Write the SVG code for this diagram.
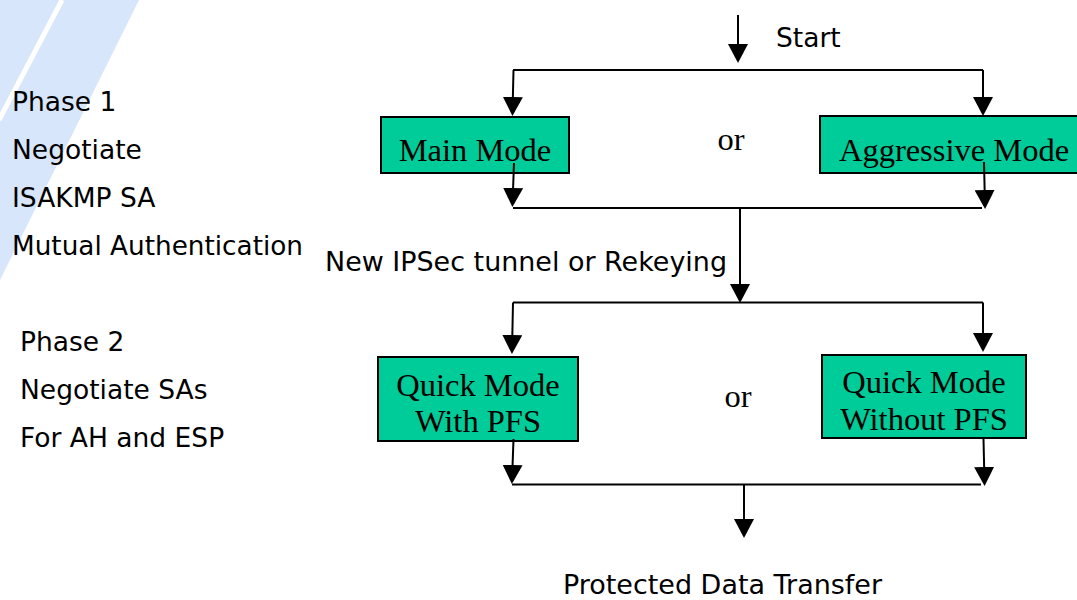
<svg xmlns="http://www.w3.org/2000/svg" width="1077" height="600" viewBox="0 0 1077 600">
  <style>
    .sans { font-family: "DejaVu Sans", Verdana, sans-serif; font-size: 26.5px; fill: #000; }
    .serif { font-family: "Liberation Serif", "Times New Roman", serif; font-size: 32.5px; fill: #000; text-anchor: middle; }
    .box { fill: #00cc99; stroke: #000; stroke-width: 2; }
    .conn { fill: none; stroke: #000; stroke-width: 2; }
    .arr { fill: none; stroke: #000; stroke-width: 2; marker-end: url(#ah); }
  </style>
  <defs>
    <marker id="ah" markerUnits="userSpaceOnUse" viewBox="0 0 20 20" markerWidth="20" markerHeight="20" refX="16" refY="10" orient="auto">
      <path d="M0,0 L19,10 L0,20 Z" fill="#000"/>
    </marker>
  </defs>
  <rect width="1077" height="600" fill="#fff"/>
  <!-- decorative stripe -->
  <g id="decor">
    <polygon points="0,0 139,0 0,280" fill="#d7e6fa"/>
    <line x1="62" y1="0" x2="-1" y2="120" stroke="#fff" stroke-width="5"/>
  </g>
  <!-- labels -->
  <g id="phase1-label">
    <text class="sans" x="12" y="111">Phase 1</text>
    <text class="sans" x="12" y="159">Negotiate</text>
    <text class="sans" x="12" y="207">ISAKMP SA</text>
    <text class="sans" x="12" y="255" textLength="291" lengthAdjust="spacingAndGlyphs">Mutual Authentication</text>
  </g>
  <g id="phase2-label">
    <text class="sans" x="20" y="351">Phase 2</text>
    <text class="sans" x="20" y="399">Negotiate SAs</text>
    <text class="sans" x="20" y="447">For AH and ESP</text>
  </g>
  <g id="start-label"><text class="sans" x="776" y="47">Start</text></g>
  <g id="rekey-label"><text class="sans" x="325" y="271" textLength="402" lengthAdjust="spacingAndGlyphs">New IPSec tunnel or Rekeying</text></g>
  <g id="end-label"><text class="sans" x="563" y="594" textLength="319" lengthAdjust="spacingAndGlyphs">Protected Data Transfer</text></g>
  <g id="or1"><text class="serif" x="731" y="150">or</text></g>
  <g id="or2"><text class="serif" x="738" y="407">or</text></g>
  <!-- nodes -->
  <g id="main-mode">
    <rect class="box" x="381" y="117" width="188" height="56"/>
    <text class="serif" x="475" y="161">Main Mode</text>
  </g>
  <g id="aggressive-mode">
    <rect class="box" x="820" y="116" width="270" height="57"/>
    <text class="serif" x="954" y="161">Aggressive Mode</text>
  </g>
  <g id="quick-pfs">
    <rect class="box" x="378" y="357" width="200" height="84"/>
    <text class="serif" x="478" y="396">Quick Mode</text>
    <text class="serif" x="478" y="432">With PFS</text>
  </g>
  <g id="quick-nopfs">
    <rect class="box" x="822" y="355" width="204" height="83"/>
    <text class="serif" x="924" y="393">Quick Mode</text>
    <text class="serif" x="924" y="430">Without PFS</text>
  </g>
  <!-- connectors -->
  <g id="connectors">
    <path class="arr" d="M738,15 L738,60"/>
    <path class="conn" d="M513,70 L983,70"/>
    <path class="arr" d="M513.5,70 L512.5,113"/>
    <path class="arr" d="M983,70 L983,113"/>
    <path class="arr" d="M514,163 L512.5,204"/>
    <path class="arr" d="M984,162 L985,206"/>
    <path class="conn" d="M513,208 L982,208"/>
    <path class="arr" d="M740,208 L740,300"/>
    <path class="conn" d="M513,302.5 L983,302.5"/>
    <path class="arr" d="M513,302.5 L512,351"/>
    <path class="arr" d="M983,302.5 L983,349"/>
    <path class="arr" d="M513.5,439 L512,481"/>
    <path class="arr" d="M983.5,439 L984.5,483"/>
    <path class="conn" d="M512,484.5 L981,484.5"/>
    <path class="arr" d="M744,484.5 L744,535"/>
  </g>
</svg>
